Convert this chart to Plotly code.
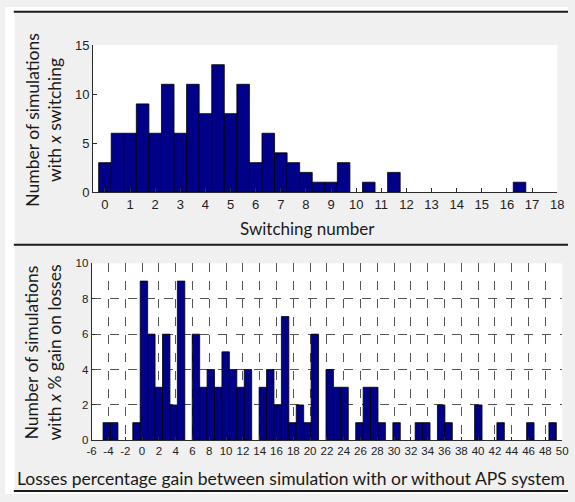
import plotly.graph_objects as go

W, H = 575, 502

# Histogram of switching counts (bin centres start at 0, step 0.5)
switch_start = 0.0
switch_step = 0.5
switch_counts = [3, 6, 6, 9, 6, 11, 6, 11, 8, 13, 8, 11, 3, 6, 4, 3, 2, 1, 1, 3,
                 0, 1, 0, 2, 0, 0, 0, 0, 0, 0, 0, 0, 0, 1]

# Histogram of loss-gain percentages
gain_start = -4.2
gain_step = 0.8845
gain_counts = [1, 1, 0, 0, 1, 9, 6, 3, 6, 2, 9, 0, 6, 3, 4, 3, 5, 4, 3, 4,
               0, 3, 4, 2, 7, 1, 2, 1, 6, 0, 4, 3, 3, 0, 1, 3, 3, 1, 0, 1,
               0, 0, 1, 1, 0, 2, 1, 0, 0, 0, 2, 0, 0, 1, 0, 0, 0, 1, 0, 0, 1]

top_xticks = list(range(0, 19))
top_yticks = [0, 5, 10, 15]
bot_xticks = list(range(-6, 51, 2))
bot_yticks = list(range(0, 11, 2))

top_xlabel = "Switching number"
top_ylabel = "Number of simulations<br>with <i>x</i> switching"
bot_xlabel = "Losses percentage gain between simulation with or without APS system"
bot_ylabel = "Number of simulations<br>with <i>x</i> % gain on losses"

BAR = "#000088"
AXC = "#2b2b2b"
TICKFONT = "Liberation Sans"
TITLEFONT = "Lato"


def fx(p):
    return p / W


def fy(p):
    return 1 - p / H


def nonzero(counts):
    # empty bins are left undrawn so no outline sits on the baseline
    return [c if c else None for c in counts]


def labels(vals):
    # plain hyphen for negatives
    return [str(v) for v in vals]


fig = go.Figure()
fig.add_trace(go.Bar(
    x0=switch_start, dx=switch_step, y=nonzero(switch_counts), width=switch_step,
    marker=dict(color=BAR, line=dict(color="black", width=0.8)),
    xaxis="x", yaxis="y", showlegend=False, hoverinfo="skip"))
fig.add_trace(go.Bar(
    x0=gain_start, dx=gain_step, y=nonzero(gain_counts), width=gain_step,
    marker=dict(color=BAR, line=dict(color="black", width=0.8)),
    xaxis="x2", yaxis="y2", showlegend=False, hoverinfo="skip"))

common = dict(showline=True, linecolor=AXC, linewidth=1, ticks="inside",
              tickcolor=AXC, zeroline=False, fixedrange=True)

fig.update_layout(
    width=W, height=H,
    margin=dict(l=0, r=0, t=0, b=0),
    paper_bgcolor="#f0f0f0", plot_bgcolor="white",
    xaxis=dict(domain=[fx(90), fx(564)], anchor="y", range=[-0.47, 18],
               tickvals=top_xticks, ticktext=labels(top_xticks), ticklen=4,
               showgrid=False,
               tickfont=dict(family=TICKFONT, size=13, color="#222"), **common),
    yaxis=dict(domain=[fy(190.7), fy(39.3)], anchor="x", range=[0, 15],
               tickvals=top_yticks, ticktext=labels(top_yticks), ticklen=4,
               showgrid=False,
               tickfont=dict(family=TICKFONT, size=13, color="#222"), **common),
    xaxis2=dict(domain=[fx(88.5), fx(569)], anchor="y2", range=[-6, 50],
                tickvals=bot_xticks, ticktext=labels(bot_xticks), ticklen=3,
                showgrid=True, griddash="dash", gridcolor="#555", gridwidth=1,
                tickfont=dict(family=TICKFONT, size=11.5, color="#222"), **common),
    yaxis2=dict(domain=[fy(446.7), fy(264.3)], anchor="x2", range=[0, 10],
                tickvals=bot_yticks, ticktext=labels(bot_yticks), ticklen=3,
                showgrid=True, griddash="dash", gridcolor="#555", gridwidth=1,
                tickfont=dict(family=TICKFONT, size=11.5, color="#222"), **common),
    shapes=[
        dict(type="rect", xref="paper", yref="paper", x0=0, x1=fx(10), y0=0, y1=1,
             fillcolor="white", line=dict(width=0), layer="below"),
        dict(type="rect", xref="paper", yref="paper", x0=0, x1=1, y0=fy(4), y1=1,
             fillcolor="white", line=dict(width=0), layer="below"),
        dict(type="rect", xref="paper", yref="paper", x0=0, x1=1, y0=0, y1=fy(500),
             fillcolor="white", line=dict(width=0), layer="below"),
        dict(type="line", xref="paper", yref="paper", x0=fx(9), x1=1, y0=fy(5), y1=fy(5),
             line=dict(color="#1a1a1a", width=2)),
        dict(type="line", xref="paper", yref="paper", x0=fx(9), x1=1, y0=fy(245), y1=fy(245),
             line=dict(color="#1a1a1a", width=2)),
        dict(type="line", xref="paper", yref="paper", x0=fx(9), x1=1, y0=fy(499), y1=fy(499),
             line=dict(color="#1a1a1a", width=2)),
    ],
    annotations=[
        dict(text=top_xlabel, xref="paper", yref="paper", x=fx(309), y=fy(228),
             showarrow=False, xanchor="center", yanchor="middle",
             font=dict(family=TITLEFONT, size=17, color="#1a1a1a")),
        dict(text=bot_xlabel, xref="paper", yref="paper", x=fx(292), y=fy(486),
             showarrow=False, xanchor="center", yanchor="middle",
             font=dict(family=TITLEFONT, size=17.5, color="#1a1a1a")),
        dict(text=top_ylabel, xref="paper", yref="paper", x=fx(39), y=fy(116),
             showarrow=False, xanchor="center", yanchor="middle", textangle=-90,
             font=dict(family=TITLEFONT, size=17.5, color="#1a1a1a")),
        dict(text=bot_ylabel, xref="paper", yref="paper", x=fx(39), y=fy(356),
             showarrow=False, xanchor="center", yanchor="middle", textangle=-90,
             font=dict(family=TITLEFONT, size=17.5, color="#1a1a1a")),
    ],
)

fig.write_html("out.html")
